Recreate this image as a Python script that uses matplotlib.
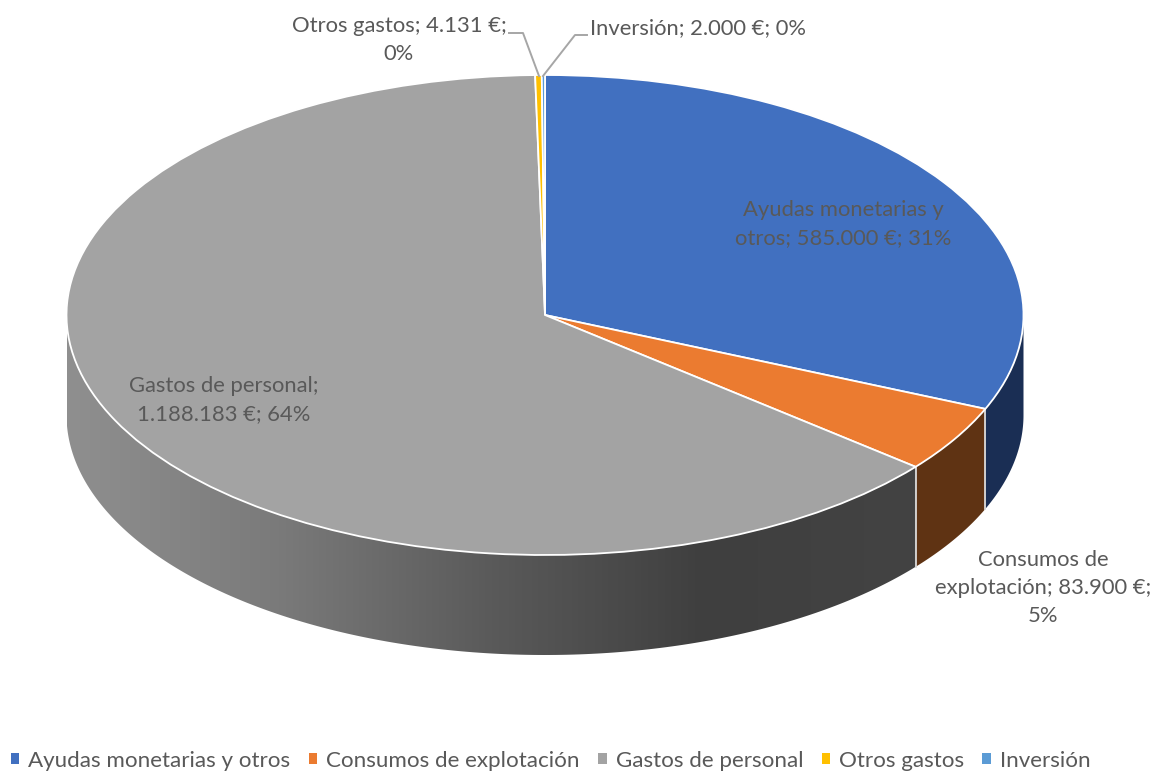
import numpy as np
import matplotlib
matplotlib.use('Agg')
import matplotlib.pyplot as plt
from matplotlib.colors import LinearSegmentedColormap
from matplotlib.patches import Patch, Polygon
from matplotlib.transforms import Affine2D

# Data
categories = ['Ayudas monetarias y otros', 'Consumos de explotación', 'Gastos de personal', 'Otros gastos', 'Inversión']
values = [585000, 83900, 1188183, 4131, 2000]
colors = ['#4170C0', '#EB7B30', '#A3A3A3', '#FFC000', '#5B9BD5']
wall_colors = ['#1A2E54', '#5F3313', None, None, None]
gradient_grays = ['#8F8F8F', '#7A7A7A', '#5A5A5A', '#3F3F3F', '#434343']

plt.rcParams['font.family'] = ['Lato', 'DejaVu Sans']
text_color = '#595959'
font_size = 15.8

W, H = 1157, 772
cx, cy, rx, ry, depth = 545, 315, 478.5, 240, 100

fig = plt.figure(figsize=(W / 100, H / 100), dpi=100)
ax = fig.add_axes([0, 0, 1, 1])

# pixel coordinates measured from the top left corner
px = Affine2D().scale(1, -1).translate(0, H)

# Side walls of the 3D pie, built from the slice angles
shares = np.array(values) / sum(values)
edges = np.concatenate([[0], np.cumsum(shares)]) * 360
for i in range(len(values)):
    lo, hi = max(edges[i], 90), min(edges[i + 1], 270)
    if lo >= hi:
        continue
    theta = np.radians(90 - np.linspace(lo, hi, 200))
    x = np.cos(theta)
    y = np.sin(theta)
    verts = np.vstack([np.c_[x, y], np.c_[x, y - depth / ry][::-1]])
    if wall_colors[i] is None:
        gray_wall = Polygon(verts, closed=True, facecolor='none', edgecolor='none', zorder=1)
        ax.add_patch(gray_wall)
        cmap = LinearSegmentedColormap.from_list('wall', gradient_grays)
        im = ax.imshow(np.linspace(0, 1, 256)[None, :], cmap=cmap, aspect='auto', zorder=1,
                       extent=[-1, verts[:, 0].max(), verts[:, 1].min(), verts[:, 1].max()])
        im.set_clip_path(gray_wall)
    else:
        ax.add_patch(Polygon(verts, closed=True, facecolor=wall_colors[i], edgecolor='none', zorder=1))
    # light divider between neighbouring walls
    if lo > 90:
        ax.plot([x[0], x[0]], [y[0], y[0] - depth / ry], color='#D9D9D9', linewidth=1.3, zorder=2)

# Top face
wedges, _ = ax.pie(values, colors=colors, startangle=90, counterclock=False, radius=1, center=(0, 0),
                   wedgeprops={'edgecolor': 'white', 'linewidth': 1.3})
for w in wedges:
    w.set_zorder(3)

ax.set_aspect('auto')
ax.set_xlim(-cx / rx, (W - cx) / rx)
ax.set_ylim(-(H - cy) / ry, cy / ry)
ax.axis('off')

# Data labels
def label(x, y, s):
    ax.text(x, y, s, transform=px, ha='center', va='center', color=text_color,
            fontsize=font_size, linespacing=1.52, zorder=5)

label(843, 224, 'Ayudas monetarias y\notros; 585.000 €; 31%')
label(224, 400, 'Gastos de personal;\n1.188.183 €; 64%')
label(1043, 588, 'Consumos de\nexplotación; 83.900 €;\n5%')
label(399, 40, 'Otros gastos; 4.131 €;\n0%')
label(698, 28, 'Inversión; 2.000 €; 0%')

# Leader lines
ax.plot([509, 523, 539], [33, 33, 76], transform=px, color='#A6A6A6', linewidth=1.4, zorder=4)
ax.plot([587, 575, 543], [35, 35, 76], transform=px, color='#A6A6A6', linewidth=1.4, zorder=4)

handles = [Patch(facecolor=c, edgecolor='none') for c in colors]
leg = fig.legend(handles, categories, ncol=5, frameon=False, loc='lower left',
                 bbox_to_anchor=(11 / W, 1 / H), fontsize=16.1, labelcolor=text_color,
                 handlelength=0.38, handleheight=0.38, handletextpad=0.4, columnspacing=0.82,
                 borderpad=0, borderaxespad=0)

fig.savefig('out.png', dpi=100)
